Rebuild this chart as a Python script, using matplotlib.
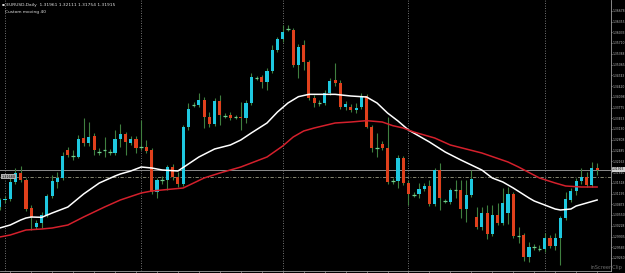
import numpy as np
import matplotlib
matplotlib.use('Agg')
import matplotlib.pyplot as plt

# EURUSD daily candles
opens = [1.3079, 1.3100, 1.3103, 1.3154, 1.3181, 1.3160, 1.3076, 1.3019, 1.3031, 1.3055,
         1.3112, 1.3154, 1.3166, 1.3250, 1.3235, 1.3229, 1.3286, 1.3271, 1.3292, 1.3244,
         1.3250, 1.3244, 1.3241, 1.3283, 1.3298, 1.3271, 1.3283, 1.3259, 1.3259, 1.3250,
         1.3124, 1.3160, 1.3160, 1.3199, 1.3169, 1.3148, 1.3319, 1.3385, 1.3385, 1.3400,
         1.3349, 1.3328, 1.3397, 1.3352, 1.3355, 1.3349, 1.3349, 1.3346, 1.3391, 1.3466,
         1.3469, 1.3454, 1.3487, 1.3550, 1.3583, 1.3613, 1.3610, 1.3505, 1.3565, 1.3514,
         1.3406, 1.3391, 1.3391, 1.3421, 1.3460, 1.3451, 1.3379, 1.3379, 1.3370, 1.3379,
         1.3412, 1.3319, 1.3256, 1.3268, 1.3256, 1.3157, 1.3157, 1.3226, 1.3151, 1.3115,
         1.3118, 1.3133, 1.3142, 1.3088, 1.3190, 1.3097, 1.3094, 1.3130, 1.3130, 1.3073,
         1.3115, 1.3049, 1.3019, 1.3061, 1.2998, 1.3055, 1.3031, 1.3061, 1.3118, 1.2992,
         1.2995, 1.2929, 1.2959, 1.2953, 1.2953, 1.2986, 1.2962, 1.2986, 1.3046, 1.3100,
         1.3127, 1.3157, 1.3169, 1.3145, 1.3196]
highs = [1.3106, 1.3112, 1.3166, 1.3196, 1.3202, 1.3166, 1.3085, 1.3040, 1.3064, 1.3118,
         1.3175, 1.3184, 1.3244, 1.3259, 1.3250, 1.3295, 1.3346, 1.3334, 1.3301, 1.3256,
         1.3289, 1.3253, 1.3310, 1.3328, 1.3304, 1.3292, 1.3292, 1.3340, 1.3280, 1.3256,
         1.3166, 1.3172, 1.3205, 1.3208, 1.3184, 1.3325, 1.3391, 1.3394, 1.3421, 1.3409,
         1.3364, 1.3406, 1.3415, 1.3361, 1.3364, 1.3355, 1.3394, 1.3400, 1.3481, 1.3472,
         1.3475, 1.3496, 1.3565, 1.3589, 1.3625, 1.3625, 1.3616, 1.3568, 1.3580, 1.3520,
         1.3415, 1.3400, 1.3430, 1.3466, 1.3511, 1.3460, 1.3397, 1.3388, 1.3391, 1.3421,
         1.3418, 1.3325, 1.3301, 1.3277, 1.3349, 1.3166, 1.3235, 1.3232, 1.3160, 1.3124,
         1.3151, 1.3151, 1.3160, 1.3196, 1.3211, 1.3103, 1.3136, 1.3160, 1.3160, 1.3160,
         1.3190, 1.3079, 1.3079, 1.3085, 1.3085, 1.3091, 1.3136, 1.3139, 1.3124, 1.3019,
         1.3001, 1.2974, 1.2968, 1.2965, 1.3001, 1.2995, 1.3001, 1.3052, 1.3124, 1.3136,
         1.3166, 1.3196, 1.3184, 1.3214, 1.3211]
lows = [1.3070, 1.3091, 1.3097, 1.3148, 1.3154, 1.3067, 1.3010, 1.3013, 1.3016, 1.3049,
        1.3106, 1.3136, 1.3160, 1.3229, 1.3220, 1.3226, 1.3262, 1.3262, 1.3235, 1.3235,
        1.3229, 1.3235, 1.3235, 1.3259, 1.3235, 1.3265, 1.3241, 1.3250, 1.3241, 1.3118,
        1.3106, 1.3148, 1.3130, 1.3160, 1.3139, 1.3142, 1.3310, 1.3379, 1.3379, 1.3316,
        1.3319, 1.3322, 1.3325, 1.3346, 1.3340, 1.3343, 1.3310, 1.3331, 1.3385, 1.3460,
        1.3436, 1.3430, 1.3481, 1.3544, 1.3574, 1.3607, 1.3499, 1.3466, 1.3490, 1.3400,
        1.3379, 1.3382, 1.3385, 1.3415, 1.3442, 1.3373, 1.3370, 1.3364, 1.3361, 1.3373,
        1.3316, 1.3244, 1.3229, 1.3250, 1.3148, 1.3148, 1.3136, 1.3145, 1.3085, 1.3109,
        1.3106, 1.3127, 1.3082, 1.3082, 1.3070, 1.3091, 1.3088, 1.3106, 1.3046, 1.3034,
        1.3109, 1.3013, 1.3010, 1.2983, 1.2992, 1.3025, 1.3025, 1.3028, 1.2986, 1.2971,
        1.2917, 1.2914, 1.2950, 1.2947, 1.2944, 1.2956, 1.2950, 1.2905, 1.3040, 1.3094,
        1.3115, 1.3148, 1.3139, 1.3139, 1.3175]
closes = [1.3100, 1.3103, 1.3154, 1.3181, 1.3160, 1.3073, 1.3049, 1.3031, 1.3055, 1.3112,
          1.3157, 1.3166, 1.3232, 1.3235, 1.3233, 1.3283, 1.3271, 1.3289, 1.3250, 1.3245,
          1.3249, 1.3245, 1.3283, 1.3298, 1.3274, 1.3283, 1.3256, 1.3260, 1.3247, 1.3124,
          1.3160, 1.3161, 1.3199, 1.3169, 1.3148, 1.3319, 1.3373, 1.3386, 1.3400, 1.3349,
          1.3328, 1.3397, 1.3355, 1.3353, 1.3346, 1.3350, 1.3346, 1.3391, 1.3469, 1.3467,
          1.3454, 1.3487, 1.3550, 1.3583, 1.3604, 1.3614, 1.3505, 1.3559, 1.3514, 1.3406,
          1.3391, 1.3392, 1.3421, 1.3457, 1.3451, 1.3379, 1.3388, 1.3370, 1.3376, 1.3412,
          1.3319, 1.3256, 1.3257, 1.3256, 1.3154, 1.3158, 1.3226, 1.3151, 1.3118, 1.3116,
          1.3133, 1.3142, 1.3088, 1.3190, 1.3106, 1.3098, 1.3130, 1.3131, 1.3073, 1.3115,
          1.3163, 1.3019, 1.3061, 1.2998, 1.3055, 1.3031, 1.3091, 1.3118, 1.2992, 1.2993,
          1.2929, 1.2959, 1.2960, 1.2954, 1.2986, 1.2962, 1.2986, 1.3046, 1.3103, 1.3127,
          1.3157, 1.3169, 1.3145, 1.3196, 1.31915]

# moving averages (white = fast, red = slow), sampled at bar index
fast_idx = [0, 2, 4, 5, 6, 8, 10, 13, 16, 19, 22, 23, 25, 27, 29, 31, 32, 34, 36, 38,
            41, 44, 46, 48, 51, 53, 55, 57, 59, 64, 67, 70, 72, 74, 76, 78, 82, 85, 88, 90,
            92, 94, 96, 98, 101, 102, 104, 106, 107, 109, 110, 112, 114]
fast_ma = [1.3016, 1.3025, 1.3040, 1.3046, 1.3049, 1.3048, 1.3061, 1.3079, 1.3118, 1.3151,
           1.3172, 1.3178, 1.3187, 1.3199, 1.3196, 1.3190, 1.3189, 1.3187, 1.3208, 1.3229,
           1.3253, 1.3265, 1.3280, 1.3301, 1.3331, 1.3364, 1.3391, 1.3410, 1.3417, 1.3417,
           1.3412, 1.3409, 1.3391, 1.3361, 1.3337, 1.3310, 1.3274, 1.3244, 1.3220, 1.3205,
           1.3190, 1.3166, 1.3154, 1.3136, 1.3106, 1.3097, 1.3085, 1.3073, 1.3070, 1.3073,
           1.3082, 1.3091, 1.3100]
slow_idx = [0, 2, 5, 8, 10, 13, 16, 20, 23, 27, 29, 35, 37, 39, 42, 46, 48, 51, 54, 56,
            58, 60, 64, 67, 70, 73, 75, 77, 79, 83, 86, 92, 97, 99, 103, 106, 108, 111, 114]
slow_ma = [1.2989, 1.2995, 1.3010, 1.3013, 1.3016, 1.3025, 1.3049, 1.3079, 1.3100, 1.3121,
           1.3127, 1.3136, 1.3151, 1.3166, 1.3181, 1.3199, 1.3211, 1.3229, 1.3262, 1.3289,
           1.3307, 1.3316, 1.3331, 1.3334, 1.3338, 1.3334, 1.3323, 1.3316, 1.3304, 1.3286,
           1.3265, 1.3241, 1.3214, 1.3199, 1.3166, 1.3151, 1.3142, 1.3139, 1.3139]

month_starts = [1, 27, 54, 78, 104]
bid = closes[-1]
level = 1.3168
title = "EURUSD,Daily  1.31961 1.32111 1.31754 1.31915"
subtitle = "Custom moving 40"

bull = '#1ec8e0'
bear = '#e0401c'
wick = '#3f7f3f'

fig = plt.figure(figsize=(6.25, 2.73), dpi=100, facecolor='black')
ax = fig.add_axes([0, 2 / 273, 611 / 625, 271 / 273])
ax.set_facecolor('black')

x = np.arange(len(opens))
o = np.array(opens); c = np.array(closes)
h = np.array(highs); l = np.array(lows)

ax.vlines(x, l, h, color=wick, lw=0.8, zorder=2)
body = np.abs(c - o)
doji = body < 0.00025
cols = np.where(c >= o, bull, bear)
ax.bar(x[~doji], body[~doji], bottom=np.minimum(o, c)[~doji], width=0.6,
       color=cols[~doji], edgecolor='none', zorder=3)
ax.hlines(c[doji], x[doji] - 0.35, x[doji] + 0.35, color='#6fcf8f', lw=0.9, zorder=3)

ax.plot(fast_idx, fast_ma, color='white', lw=1.1, zorder=4)
ax.plot(slow_idx, slow_ma, color='#d4202c', lw=1.1, zorder=4)

# period separators and price lines
for m in month_starts:
    ax.axvline(m, color='#9a9a9a', lw=0.6, ls=(0, (1, 2)), zorder=1)
ax.axhline(bid, color='#8c8c8c', lw=0.7, zorder=1)
ax.axhline(level, color='#9a9a80', lw=0.6, ls=(0, (4, 2, 1, 2)), zorder=1)
ax.text(0.3, level + 0.0002, '1.31680', fontsize=2.4, color='black', va='center',
        bbox=dict(facecolor='#b0b0b0', edgecolor='none', pad=0.3), zorder=5)

ax.set_xlim(0.046, 116.65)
ax.set_ylim(1.2887, 1.3700)

ticks = 1.3700 - 0.003225 * np.arange(1, 25)
ax.yaxis.tick_right()
ax.set_yticks(ticks)
ax.set_yticklabels(['%.5f' % t for t in ticks])
ax.tick_params(axis='y', colors='#bdbdbd', labelsize=2.2, length=1.0, width=0.5, pad=0.3)
ax.set_xticks(np.arange(2, 116, 4))
ax.set_xticklabels([])
ax.tick_params(axis='x', colors='#9a9a9a', length=2, width=0.5, direction='out')

for s in ['top', 'left']:
    ax.spines[s].set_visible(False)
for s in ['right', 'bottom']:
    ax.spines[s].set_color('#a0a0a0')
    ax.spines[s].set_linewidth(0.6)

ax.text(1.0 + 1 / 625, bid, '%.5f' % bid, transform=ax.get_yaxis_transform(),
        fontsize=2.2, color='black', va='center', ha='left',
        bbox=dict(facecolor='#d0d0d0', edgecolor='none', pad=0.3), zorder=6, clip_on=False)

fig.text(2 / 625, 1 - 5 / 273, '\u25aa ' + title, fontsize=3.2, color='#e0e0e0', va='center')
fig.text(5 / 625, 1 - 12 / 273, subtitle, fontsize=3.2, color='#e0e0e0', va='center')
fig.text(622 / 625, 5 / 273, 'inScreenClip', fontsize=3.6, color='#8a8a8a', ha='right',
         va='center', alpha=0.8)

fig.savefig('out.png', dpi=100, facecolor='black')
